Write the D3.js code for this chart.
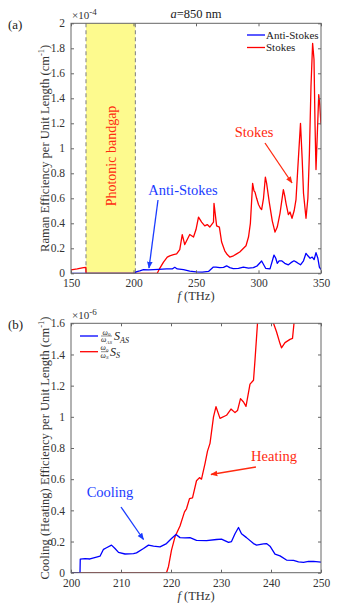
<!DOCTYPE html>
<html><head><meta charset="utf-8">
<script src="https://cdn.jsdelivr.net/npm/d3@7"></script>
<style>
html,body{margin:0;padding:0;background:#fff;}
svg, svg text{font-family:"Liberation Serif","Times New Roman",Times,serif;}
</style></head>
<body><svg id="c" width="359" height="604"></svg>
<script>
// ---------- Data ----------
// Panel (a): Raman efficiency (x 1e-4 cm^-1) vs f (THz)
const stokesAFreq = [150,155,160,161.9,162,219,221,224,227,229,232,234.5,237,239,241,243,245,248,250,252,254.5,257,259,261,264,264.4,266.5,268.7,270.5,273,275,277,280,282.5,285,288,290,292,293.5,295.3,296.4,297.2,298.5,300,301.5,302.5,304,305.5,306.5,308.6,311,313.2,315,317.2,319.9,321,322,323.9,325.2,326.8,328.5,330,331.5,333.6,335,336,338,339.5,340.7,342,343.3,344.4,345.2,346,347,348.2,349,350];
const stokesAVal  = [0.027,0.035,0.045,0.048,0,0,0.04,0.09,0.13,0.14,0.15,0.155,0.19,0.31,0.23,0.27,0.31,0.29,0.35,0.45,0.41,0.38,0.39,0.37,0.41,0.56,0.38,0.37,0.25,0.18,0.15,0.13,0.14,0.155,0.17,0.2,0.22,0.29,0.4,0.72,0.66,0.65,0.6,0.55,0.52,0.51,0.6,0.77,0.72,0.57,0.42,0.33,0.37,0.48,0.67,0.62,0.56,0.47,0.49,0.44,0.5,0.59,0.85,1.2,0.9,0.64,0.44,0.6,0.95,1.5,1.84,1.71,1.2,0.83,1.1,1.43,1.35,1.19];
const antiAFreq = [150,201.5,202,205,208,212,216,220,226.5,231,233,235,240,245,250,255,260,263.9,266,269,272,274.5,277,279.8,284,287.9,292,295.9,299,302.5,305.7,309.2,312.4,313.8,315,316.5,318.5,321,323.9,326,328.4,331,333.6,336,338,339.5,341.3,343,344.5,346,347.5,348.7,350];
const antiAVal  = [0,0,0.012,0.02,0.03,0.028,0.03,0.032,0.035,0.035,0.048,0.035,0.03,0.018,0.012,0.01,0.015,0.05,0.05,0.045,0.048,0.06,0.045,0.037,0.04,0.05,0.042,0.045,0.06,0.098,0.04,0.035,0.146,0.12,0.08,0.1,0.1,0.08,0.068,0.085,0.1,0.085,0.068,0.1,0.16,0.14,0.12,0.13,0.11,0.165,0.12,0.05,0.03];
// Panel (b): cooling / heating efficiency (x 1e-6 cm^-1)
const coolFreq = [200,201.8,201.85,202.8,203.8,205.1,205.8,206.5,207.1,208.1,208.8,209.5,210.8,212.5,213.1,214.5,215.5,216.5,217.8,219.1,220.1,221,221.8,222.8,223.8,225.1,227.1,229.1,230.1,231.5,232.1,232.8,233.5,234.1,235.1,236.5,237.1,238.5,239.1,239.8,240.8,241.8,243.1,244.5,245.5,246.5,247.5,248.5,250];
const coolVal  = [0,0,0.087,0.09,0.088,0.1,0.106,0.15,0.16,0.177,0.155,0.13,0.12,0.123,0.127,0.155,0.177,0.17,0.166,0.187,0.219,0.245,0.225,0.223,0.225,0.208,0.206,0.213,0.215,0.194,0.2,0.25,0.29,0.25,0.225,0.187,0.177,0.185,0.187,0.17,0.119,0.108,0.081,0.079,0.07,0.066,0.072,0.072,0.068];
const heatFreq = [200,219.1,219.5,220.1,220.8,221.8,222.7,223.1,223.7,224.3,225.1,225.7,226.1,226.8,227.3,227.8,228.5,229,229.8,231.1,232,232.8,233.3,233.9,234.5,235,235.8,236.5,236.8,237.3,237.8,238.8,239.8,240.5,241.1,241.8,242.1,242.8,243.8,244.3,244.6,245.2,247,250];
const heatVal  = [0,0,0.04,0.145,0.23,0.3,0.39,0.41,0.475,0.48,0.59,0.61,0.6,0.7,0.78,0.83,1.0,1.065,0.99,1.01,1.05,1.027,1.04,1.117,1.095,1.067,1.21,1.235,1.364,1.6,1.9,2.1,1.9,1.6,1.546,1.47,1.443,1.476,1.497,1.503,1.6,1.9,2.3,2.6];
// ticks
const xTicksA = [150,200,250,300,350];
const yTicksA = [0,0.2,0.4,0.6,0.8,1,1.2,1.4,1.6,1.8,2];
const xTicksB = [200,210,220,230,240,250];
const yTicksB = [0,0.2,0.4,0.6,0.8,1,1.2,1.4,1.6];
const bandgap = [162,201.5];

// ---------- Drawing ----------
const FONT = "Liberation Serif";
const svg = d3.select("#c");
const defs = svg.append("defs");
function marker(id,color){
  defs.append("marker").attr("id",id).attr("viewBox","0 0 10 10").attr("refX",9).attr("refY",5)
    .attr("markerWidth",7).attr("markerHeight",7).attr("markerUnits","userSpaceOnUse").attr("orient","auto")
    .append("path").attr("d","M0,1 L10,5 L0,9 Z").attr("fill",color);
}
const RED="#ff0000", BLUE="#0000ff", ARED="#ff2a10", ABLUE="#1a3cff";
marker("ar",ARED); marker("ab",ABLUE);

const L=71,R=321;
const axisCol="#666", txtCol="#333";

function panel(cfg){
  const x=d3.scaleLinear().domain(cfg.xd).range([L,R]);
  const y=d3.scaleLinear().domain(cfg.yd).range([cfg.bot,cfg.top]);
  const g=svg.append("g");
  const cid="clip"+cfg.id;
  defs.append("clipPath").attr("id",cid).append("rect").attr("x",L).attr("y",cfg.top).attr("width",R-L).attr("height",cfg.bot-cfg.top);
  if(cfg.pre) cfg.pre(g,x,y);
  const line=d3.line().x(d=>x(d[0])).y(d=>y(d[1]));
  cfg.series.forEach(s=>{
    g.append("path").datum(s.f.map((f,i)=>[f,s.v[i]])).attr("d",line).attr("fill","none")
      .attr("stroke",s.c).attr("stroke-width",1.3).attr("stroke-linejoin","round").attr("clip-path",`url(#${cid})`);
  });
  g.append("rect").attr("x",L).attr("y",cfg.top).attr("width",R-L).attr("height",cfg.bot-cfg.top)
    .attr("fill","none").attr("stroke",axisCol).attr("stroke-width",1);
  const ax=d3.axisBottom(x).tickValues(cfg.xt).tickSize(-3).tickPadding(6).tickFormat(d3.format("d"));
  const ay=d3.axisLeft(y).tickValues(cfg.yt).tickSize(-3).tickPadding(6).tickFormat(d=>String(+d.toFixed(1)));
  const gx=g.append("g").attr("transform",`translate(0,${cfg.bot})`).call(ax);
  const gy=g.append("g").attr("transform",`translate(${L},0)`).call(ay);
  const gx2=g.append("g").attr("transform",`translate(0,${cfg.top})`).call(d3.axisTop(x).tickValues(cfg.xt).tickSize(-3).tickFormat(""));
  const gy2=g.append("g").attr("transform",`translate(${R},0)`).call(d3.axisRight(y).tickValues(cfg.yt).tickSize(-3).tickFormat(""));
  [gx,gy,gx2,gy2].forEach(a=>{
    a.attr("font-family",FONT).attr("font-size",11.5);
    a.select(".domain").remove();
    a.selectAll("line").attr("stroke",axisCol);
    a.selectAll("text").attr("fill",txtCol);
  });
  const ex=g.append("text").attr("x",L+1).attr("y",cfg.top-4).attr("fill",txtCol).style("font-size","11px");
  ex.append("tspan").text("×10");
  ex.append("tspan").attr("dy",-4).style("font-size","9px").text(cfg.exp);
  const xl=g.append("text").attr("x",(L+R)/2).attr("y",cfg.bot+27).attr("text-anchor","middle").attr("fill",txtCol).style("font-size","12.5px");
  xl.append("tspan").style("font-style","italic").text("f");
  xl.append("tspan").text(" (THz)");
  const yl=g.append("text").attr("transform",`translate(49,${(cfg.top+cfg.bot)/2}) rotate(-90)`).attr("text-anchor","middle").attr("fill",txtCol).style("font-size","12.5px");
  yl.append("tspan").text(cfg.ylab+" (cm");
  yl.append("tspan").attr("dy",-5).style("font-size","8.5px").text("-1");
  yl.append("tspan").attr("dy",5).text(")");
  g.append("text").attr("x",8).attr("y",cfg.top+6).attr("fill","#222").style("font-size","13px").text(cfg.letter);
  if(cfg.post) cfg.post(g,x,y);
  return {x,y,g};
}

panel({
  id:"a", xd:[150,350], yd:[0,2], top:23.3, bot:273.3, xt:xTicksA, yt:yTicksA, exp:"-4",
  ylab:"Raman Efficiency per Unit Length", letter:"(a)",
  series:[{f:stokesAFreq,v:stokesAVal,c:RED},{f:antiAFreq,v:antiAVal,c:BLUE}],
  pre:(g,x,y)=>{
    g.append("rect").attr("x",x(bandgap[0])).attr("y",23.3).attr("width",x(bandgap[1])-x(bandgap[0])).attr("height",250).attr("fill","#fdfa8e");
    bandgap.forEach(b=>g.append("line").attr("x1",x(b)).attr("x2",x(b)).attr("y1",23.3).attr("y2",273.3)
      .attr("stroke","#888").attr("stroke-width",1.1).attr("stroke-dasharray","4,3"));
    g.append("text").attr("transform",`translate(${(x(bandgap[0])+x(bandgap[1]))/2+5},156) rotate(-90)`)
      .attr("text-anchor","middle").attr("fill","#ff2a10").style("font-size","14px").text("Photonic bandgap");
  },
  post:(g,x,y)=>{
    const t=g.append("text").attr("x",196).attr("y",18).attr("text-anchor","middle").attr("fill","#222").style("font-size","12.5px");
    t.append("tspan").style("font-style","italic").text("a");
    t.append("tspan").text("=850 nm");
    [["Anti-Stokes",BLUE,35],["Stokes",RED,47.5]].forEach(([n,c,yy])=>{
      g.append("line").attr("x1",247).attr("x2",265).attr("y1",yy).attr("y2",yy).attr("stroke",c).attr("stroke-width",1.3);
      g.append("text").attr("x",266).attr("y",yy+3.5).attr("fill","#222").style("font-size","11px").text(n);
    });
    g.append("text").attr("x",183).attr("y",195).attr("text-anchor","middle").attr("fill",ABLUE).style("font-size","14.5px").text("Anti-Stokes");
    g.append("line").attr("x1",158).attr("y1",200).attr("x2",149).attr("y2",268).attr("stroke",ABLUE).attr("stroke-width",1.3).attr("marker-end","url(#ab)");
    g.append("text").attr("x",254).attr("y",137).attr("text-anchor","middle").attr("fill",ARED).style("font-size","14.5px").text("Stokes");
    g.append("line").attr("x1",265).attr("y1",143).attr("x2",292).attr("y2",183).attr("stroke",ARED).attr("stroke-width",1.3).attr("marker-end","url(#ar)");
  }
});

panel({
  id:"b", xd:[200,250], yd:[0,1.6], top:323.3, bot:572.7, xt:xTicksB, yt:yTicksB, exp:"-6",
  ylab:"Cooling (Heating) Efficiency per Unit Length", letter:"(b)",
  series:[{f:heatFreq,v:heatVal,c:RED},{f:coolFreq,v:coolVal,c:BLUE}],
  post:(g,x,y)=>{
    const items=[{c:BLUE,yy:336,den:"AS",sub:"AS"},{c:RED,yy:351.7,den:"S",sub:"S"}];
    items.forEach(it=>{
      g.append("line").attr("x1",80).attr("x2",98).attr("y1",it.yy).attr("y2",it.yy).attr("stroke",it.c).attr("stroke-width",1.3);
      const fx=101;
      const fw= it.den==="AS"?11:7;
      const num=g.append("text").attr("x",fx+fw/2).attr("y",it.yy-1.5).attr("text-anchor","middle").attr("fill","#222").style("font-size","7.5px").style("font-style","italic");
      num.append("tspan").text("ω");
      num.append("tspan").attr("dy",1.5).style("font-size","5px").style("font-style","normal").text("0");
      g.append("line").attr("x1",fx).attr("x2",fx+fw).attr("y1",it.yy).attr("y2",it.yy).attr("stroke","#222").attr("stroke-width",0.5);
      const den=g.append("text").attr("x",fx+fw/2).attr("y",it.yy+6).attr("text-anchor","middle").attr("fill","#222").style("font-size","7.5px").style("font-style","italic");
      den.append("tspan").text("ω");
      den.append("tspan").attr("dy",1.5).style("font-size","5px").text(it.den);
      const s=g.append("text").attr("x",fx+fw+2).attr("y",it.yy+4).attr("fill","#222").style("font-size","12px").style("font-style","italic");
      s.append("tspan").text("S");
      s.append("tspan").attr("dy",2.5).style("font-size","8px").text(it.sub);
    });
    g.append("text").attr("x",274).attr("y",461).attr("text-anchor","middle").attr("fill",ARED).style("font-size","14.5px").text("Heating");
    g.append("line").attr("x1",256).attr("y1",467).attr("x2",211).attr("y2",474.5).attr("stroke",ARED).attr("stroke-width",1.3).attr("marker-end","url(#ar)");
    g.append("text").attr("x",110).attr("y",497).attr("text-anchor","middle").attr("fill",ABLUE).style("font-size","14.5px").text("Cooling");
    g.append("line").attr("x1",121).attr("y1",507).attr("x2",143.5).attr("y2",539.5).attr("stroke",ABLUE).attr("stroke-width",1.3).attr("marker-end","url(#ab)");
  }
});
svg.selectAll("text").attr("font-family",FONT);
</script></body></html>
